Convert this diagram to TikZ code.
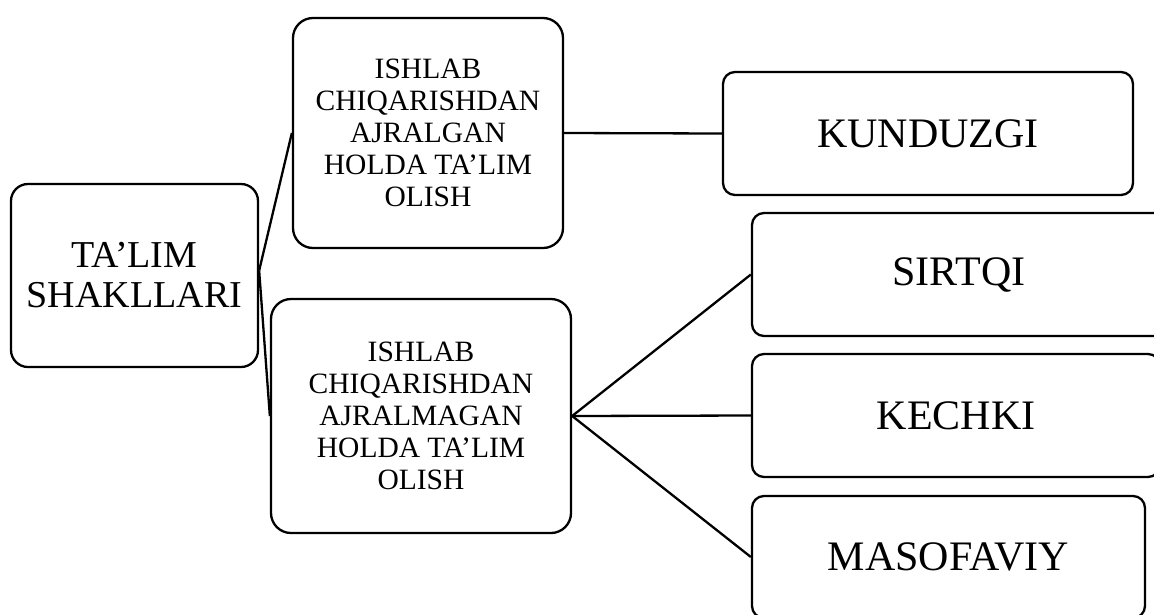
\documentclass[tikz,border=0pt]{standalone}
\usepackage{fontspec}
\setmainfont{Liberation Serif}
\begin{document}
\begin{tikzpicture}[x=1pt,y=-1pt,
  box/.style={draw=black, line width=2.3pt, fill=white, inner sep=0pt, align=center, text=black},
  rootbox/.style={box, rounded corners=17pt, font=\fontsize{38}{40}\selectfont},
  midbox/.style={box, rounded corners=20pt, font=\fontsize{29.5}{32}\selectfont},
  leafbox/.style={box, rounded corners=12pt, font=\fontsize{42}{44}\selectfont},
  link/.style={draw=black, line width=2.3pt}]
\useasboundingbox (0,0) rectangle (1154,614);
\clip (0,0) rectangle (1154,614);
\fill[white] (0,0) rectangle (1154,614);
\node[rootbox, minimum width=247pt, minimum height=183pt] (ta) at (134.5,275.5) {TA’LIM\\SHAKLLARI};
\node[midbox, minimum width=270pt, minimum height=230pt] (b1) at (428,133) {ISHLAB\\CHIQARISHDAN\\AJRALGAN\\HOLDA TA’LIM\\OLISH};
\node[midbox, minimum width=300pt, minimum height=234pt] (b2) at (421,416) {ISHLAB\\CHIQARISHDAN\\AJRALMAGAN\\HOLDA TA’LIM\\OLISH};
\node[leafbox, minimum width=410pt, minimum height=123pt] (kun) at (928,133.5) {KUNDUZGI};
\node[leafbox, minimum width=414pt, minimum height=123pt] (sir) at (959,274.5) {SIRTQI};
\node[leafbox, minimum width=408pt, minimum height=123pt] (kec) at (956,415.5) {KECHKI};
\node[leafbox, minimum width=393pt, minimum height=122pt] (mas) at (948.5,557) {MASOFAVIY};
\coordinate (j) at ([yshift=5pt]ta.east);
\draw[link] (j) -- (b1.west);
\draw[link] (j) -- (b2.west);
\draw[link] (b1.east) -- (kun.west);
\draw[link] (b2.east) -- (sir.west);
\draw[link] (b2.east) -- (kec.west);
\draw[link] (b2.east) -- (mas.west);
\end{tikzpicture}
\end{document}
